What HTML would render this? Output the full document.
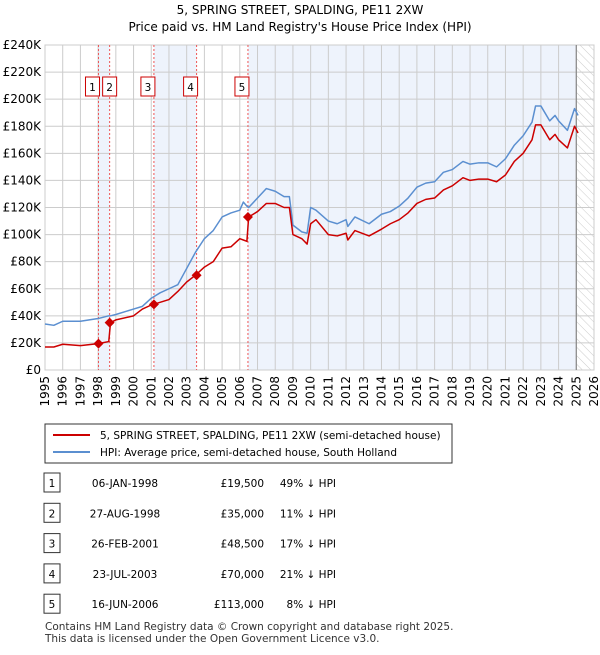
<!DOCTYPE html>
<html><head><meta charset="utf-8"><style>
body{margin:0;background:#fff;font-family:"Liberation Sans","DejaVu Sans",sans-serif;}
svg text{font-family:"DejaVu Sans","Liberation Sans",sans-serif;}
</style></head><body>
<svg id="c" width="600" height="650" viewBox="0 0 600 650">
<defs><pattern id="hatch" width="6" height="6" patternUnits="userSpaceOnUse" patternTransform="rotate(-45)"><line x1="0" y1="0" x2="0" y2="6" stroke="#ccc" stroke-width="1"/></pattern></defs>
<text x="300" y="14" font-size="12" text-anchor="middle">5, SPRING STREET, SPALDING, PE11 2XW</text>
<text x="300" y="31" font-size="12" text-anchor="middle">Price paid vs. HM Land Registry's House Price Index (HPI)</text>
<g id="plot"></g>
<g>
<rect x="45" y="424" width="407" height="39" fill="#fff" stroke="#333"/>
<line x1="53" y1="435" x2="90" y2="435" stroke="#cc0000" stroke-width="2"/>
<text x="100" y="439" font-size="10.5">5, SPRING STREET, SPALDING, PE11 2XW (semi-detached house)</text>
<line x1="53" y1="452" x2="90" y2="452" stroke="#5b8fd0" stroke-width="2"/>
<text x="100" y="456" font-size="10.5">HPI: Average price, semi-detached house, South Holland</text>
</g>
<g id="table"></g>
<text x="45" y="630" font-size="10.5" fill="#333">Contains HM Land Registry data © Crown copyright and database right 2025.</text>
<text x="45" y="642" font-size="10.5" fill="#333">This data is licensed under the Open Government Licence v3.0.</text>
</svg>
<script>
const dates=[1995,1995.5,1996,1997,1998,1998.6,1998.7,1999,2000,2000.5,2001,2001.5,2002,2002.5,2003,2003.5,2004,2004.5,2005,2005.5,2006,2006.2,2006.4,2006.5,2007,2007.5,2008,2008.5,2008.8,2009,2009.5,2009.8,2010,2010.3,2011,2011.5,2012,2012.1,2012.5,2013.3,2014,2014.5,2015,2015.5,2016,2016.5,2017,2017.5,2018,2018.6,2019,2019.5,2020,2020.5,2021,2021.5,2022,2022.5,2022.7,2023,2023.5,2023.8,2024,2024.5,2024.9,2025.1];
const hpi=[34,33,36,36,38,40,40,41,45,47,53,57,60,63,75,87,97,103,113,116,118,124,121,120,127,134,132,128,128,107,102,101,120,118,110,108,111,106,113,108,115,117,121,127,135,138,139,146,148,154,152,153,153,150,156,166,173,183,195,195,184,188,184,177,193,188];
const price=[17,17,19,18,19.5,21,35,37,40,45,48,50,52,58,65,70,76,80,90,91,97,96,95,113,117,123,123,120,120,100,97,93,108,111,100,99,101,96,103,99,104,108,111,116,123,126,127,133,136,142,140,141,141,139,144,154,160,170,181,181,170,174,170,164,180,175];
const saleLabels=["1","2","3","4","5"];
const saleDates=[1998.02,1998.65,2001.15,2003.56,2006.46];
const saleDateText=["06-JAN-1998","27-AUG-1998","26-FEB-2001","23-JUL-2003","16-JUN-2006"];
const salePrices=[19.5,35,48.5,70,113];
const salePriceText=["£19,500","£35,000","£48,500","£70,000","£113,000"];
const salePct=["49% ↓ HPI","11% ↓ HPI","17% ↓ HPI","21% ↓ HPI","8% ↓ HPI"];
const yTicks=[0,20,40,60,80,100,120,140,160,180,200,220,240];
const xTicks=[1995,1996,1997,1998,1999,2000,2001,2002,2003,2004,2005,2006,2007,2008,2009,2010,2011,2012,2013,2014,2015,2016,2017,2018,2019,2020,2021,2022,2023,2024,2025,2026];
const X0=45,X1=594,Y0=370,Y1=45;
const xs=d=>X0+(d-1995)/(2026-1995)*(X1-X0);
const ys=v=>Y0-v/240*(Y0-Y1);
const NS="http://www.w3.org/2000/svg";
const g=document.getElementById('plot');
function mk(tag,attrs,parent){const e=document.createElementNS(NS,tag);for(const k in attrs)e.setAttribute(k,attrs[k]);(parent||g).appendChild(e);return e;}
// shading
const endD=2025.0;
const shadeStarts=[saleDates[0],saleDates[2],saleDates[4]];
const shadeEnds=[saleDates[1],saleDates[3],endD];
for(let i=0;i<shadeStarts.length;i++){
 const r=mk('rect',{x:xs(shadeStarts[i]),y:Y1,width:xs(shadeEnds[i])-xs(shadeStarts[i]),height:Y0-Y1,fill:'#eef3fc'});
 
 
}
const hr=mk('rect',{x:xs(endD),y:Y1,width:X1-xs(endD),height:Y0-Y1,fill:'url(#hatch)'});


// grid
yTicks.forEach(v=>{
 const l=mk('line',{x1:X0,x2:X1,y1:ys(v),y2:ys(v),stroke:'#ccc','stroke-width':1});
 
 
 const t=mk('text',{x:X0-4,y:ys(v)+4,'font-size':12,'text-anchor':'end'});
 t.textContent='£'+v+(v?'K':'');
 
 
});
xTicks.forEach(d=>{
 const l=mk('line',{x1:xs(d),x2:xs(d),y1:Y1,y2:Y0,stroke:'#ccc','stroke-width':1});
 
 
 const t=mk('text',{x:0,y:0,'font-size':12,'text-anchor':'end',transform:`translate(${xs(d)+4},${Y0+6}) rotate(-90)`});
 t.textContent=d;
 
 
});
const br=mk('rect',{x:X0,y:Y1,width:X1-X0,height:Y0-Y1,fill:'none',stroke:'#ccc'});


const nl=mk('line',{x1:xs(endD),x2:xs(endD),y1:Y1,y2:Y0,stroke:'#888','stroke-width':1.2});


// sale lines & labels
saleDates.forEach((d,i)=>{
 const l=mk('line',{x1:xs(d),x2:xs(d),y1:Y1,y2:Y0,stroke:'#ee5555','stroke-dasharray':'2,2','stroke-width':1});
 
 
 const bx=i===0?xs(d)-13:(i===1?xs(d)-7:xs(d)-13);
 const r=mk('rect',{x:bx,y:77,width:14,height:19,fill:'#fff',stroke:'#cc0000'});
 
 
 const t=mk('text',{x:bx+7,y:91,'font-size':10.5,'text-anchor':'middle'});
 t.textContent=saleLabels[i];
 
 
});
// series
function line(vals,color,name){
 const p=mk('polyline',{points:dates.map((d,i)=>xs(d)+','+ys(vals[i])).join(' '),fill:'none',stroke:color,'stroke-width':1.5,'stroke-linejoin':'round'});
 
 
}
line(hpi,'#5b8fd0','hpi-line');
line(price,'#cc0000','price-paid-line');
saleDates.forEach((d,i)=>{
 const x=xs(d),y=ys(salePrices[i]);
 const m=mk('polygon',{points:`${x},${y-5} ${x+5},${y} ${x},${y+5} ${x-5},${y}`,fill:'#cc0000'});
 
 
});
// table
const tb=document.getElementById('table');
saleLabels.forEach((s,i)=>{
 const y=483+i*30.3;
 const r=mk('rect',{x:44,y:y-10,width:16,height:19,fill:'#fff',stroke:'#333'},tb);
 
 
 const cells=[[52,'middle',s],[125,'middle',saleDateText[i]],[264,'end',salePriceText[i]],[336,'end',salePct[i]]];
 cells.forEach(c=>{
  const t=mk('text',{x:c[0],y:y+4,'font-size':10.5,'text-anchor':c[1]},tb);
  t.textContent=c[2];
  
  
 });
});
</script>
</body></html>
